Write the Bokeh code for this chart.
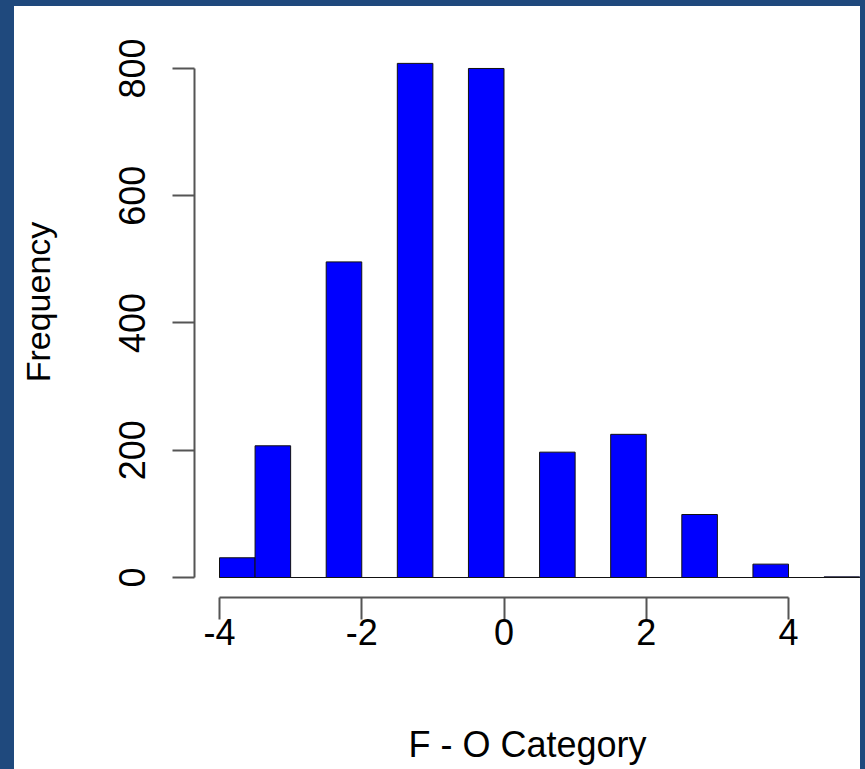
from bokeh.plotting import figure
from bokeh.models import Range1d, FixedTicker
from bokeh.layouts import column
from bokeh.embed import file_html
from bokeh.resources import INLINE

# Histogram bins (edges) and counts
bin_left = [-4.0, -3.5, -3.0, -2.5, -2.0, -1.5, -1.0, -0.5, 0.0, 0.5, 1.0, 1.5, 2.0, 2.5, 3.0, 3.5, 4.0, 4.5]
bin_right = [-3.5, -3.0, -2.5, -2.0, -1.5, -1.0, -0.5, 0.0, 0.5, 1.0, 1.5, 2.0, 2.5, 3.0, 3.5, 4.0, 4.5, 5.0]
counts = [31, 207, 0, 496, 0, 808, 0, 800, 0, 197, 0, 225, 0, 99, 0, 21, 0, 1]
x_ticks = [-4, -2, 0, 2, 4]
x_tick_labels = ["-4", "-2", "0", "2", "4"]
y_ticks = [0, 200, 400, 600, 800]
x_label = "F - O Category"
y_label = "Frequency"

FONT = "Liberation Sans"

p = figure(width=846, height=763, output_backend="svg", toolbar_location=None,
           x_range=Range1d(-4.3515, 5.0123), y_range=Range1d(-31.43, 897.4),
           min_border_left=180, min_border_right=0, min_border_top=0, min_border_bottom=172)
p.outline_line_color = None
p.background_fill_alpha = 0
p.border_fill_alpha = 0
p.xgrid.visible = False
p.ygrid.visible = False

zeros = [0] * len(counts)
p.quad(left=bin_left, right=bin_right, bottom=zeros, top=counts,
       fill_color="#0000ff", line_color="#111111", line_width=1)
# bottom edges of every bin (empty bins are drawn as flat lines, as R does)
p.segment(x0=bin_left, y0=zeros, x1=bin_right, y1=zeros, line_color="#111111", line_width=1)

for ax, ticks in ((p.xaxis[0], x_ticks), (p.yaxis[0], y_ticks)):
    ax.ticker = FixedTicker(ticks=ticks)
    ax.bounds = (min(ticks), max(ticks))
    ax.minor_tick_line_color = None
    ax.major_tick_in = 0
    ax.major_tick_out = 22
    ax.axis_line_color = "#555555"
    ax.axis_line_width = 2
    ax.major_tick_line_color = "#555555"
    ax.major_tick_line_width = 2
    ax.major_label_text_font = FONT
    ax.major_label_text_font_size = "36px"
    ax.major_label_text_color = "black"
    ax.axis_label_text_font = FONT
    ax.axis_label_text_font_style = "normal"
    ax.axis_label_text_color = "black"

p.xaxis.major_label_overrides = {t: s for t, s in zip(x_ticks, x_tick_labels)}
p.xaxis.axis_label = x_label
p.xaxis.major_label_standoff = -1
p.xaxis.axis_label_standoff = 76
p.xaxis.axis_label_text_font_size = "36px"

p.yaxis.axis_label = y_label
p.yaxis.major_label_orientation = "vertical"
p.yaxis.major_label_standoff = 27
p.yaxis.axis_label_standoff = 60
p.yaxis.axis_label_text_font_size = "34px"

inner = column(p, styles={"background-color": "white"}, margin=(6, 5, 0, 14))
page = column(inner, styles={"background-color": "#1f497d"})

open("out.html", "w").write(file_html(page, INLINE))
